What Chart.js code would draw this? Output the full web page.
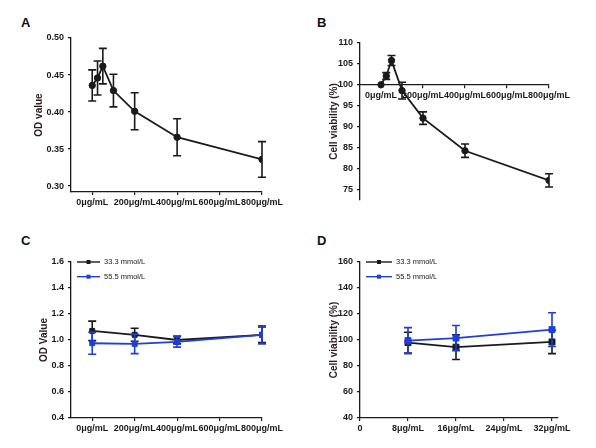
<!DOCTYPE html>
<html>
<head>
<meta charset="utf-8">
<script src="https://cdn.jsdelivr.net/npm/chart.js@4.4.1/dist/chart.umd.min.js"></script>
<style>
  body { margin: 0; background: #fff; width: 596px; height: 448px; position: relative; overflow: hidden;
         font-family: 'Liberation Sans', Arial, sans-serif; }
  canvas { position: absolute; }
  .tag { position: absolute; font-weight: bold; font-size: 13px; line-height: 1; color: #111; }
</style>
</head>
<body>
<div class="tag" style="left:21px;top:16px">A</div>
<div class="tag" style="left:317px;top:16px">B</div>
<div class="tag" style="left:21px;top:234px">C</div>
<div class="tag" style="left:317px;top:234px">D</div>
<canvas id="chartA" width="298" height="220" style="left:0;top:0"></canvas>
<canvas id="chartB" width="298" height="220" style="left:298px;top:0"></canvas>
<canvas id="chartC" width="298" height="228" style="left:0;top:220px"></canvas>
<canvas id="chartD" width="298" height="228" style="left:298px;top:220px"></canvas>
<script>
// panel A / B : single series, doses in μg/mL
var abDoses = [0, 25, 50, 100, 200, 400, 800];
var aOD = [0.436, 0.446, 0.462, 0.429, 0.401, 0.366, 0.336];
var aODErr = [0.021, 0.023, 0.024, 0.022, 0.025, 0.025, 0.024];
var bViability = [100, 102.1, 105.8, 98.6, 92.0, 84.2, 77.1];
var bViabilityErr = [0, 0.8, 1.2, 2.0, 1.5, 1.6, 1.6];

// panel C : two glucose levels
var cDoses = [0, 200, 400, 800];
var cOD333 = [1.07, 1.04, 1.0, 1.04];
var cOD333Err = [0.075, 0.05, 0.03, 0.06];
var cOD555 = [0.975, 0.97, 0.985, 1.04];
var cOD555Err = [0.085, 0.075, 0.04, 0.07];

// panel D
var dDoses = [8, 16, 32];
var dVia333 = [98, 94.5, 98.5];
var dVia333Err = [8, 9.5, 9];
var dVia555 = [99.5, 101.5, 108];
var dVia555Err = [10, 9.7, 13];

var seriesLabels = ['33.3 mmol/L', '55.5 mmol/L'];

// axis ticks
var doseTicks = [0, 200, 400, 600, 800];
var doseLabels = ['0μg/mL', '200μg/mL', '400μg/mL', '600μg/mL', '800μg/mL'];
var lowDoseTicks = [0, 8, 16, 24, 32];
var lowDoseLabels = ['0', '8μg/mL', '16μg/mL', '24μg/mL', '32μg/mL'];
var aYTicks = [0.30, 0.35, 0.40, 0.45, 0.50];
var bYTicks = [75, 80, 85, 90, 95, 100, 105, 110];
var cYTicks = [0.4, 0.6, 0.8, 1.0, 1.2, 1.4, 1.6];
var dYTicks = [40, 60, 80, 100, 120, 140, 160];

var FONT = "'Liberation Sans', Arial, sans-serif";
var INK = '#1a1a1a';
var BLUE = '#1f3fd6';

function pts(xs, ys) {
  return xs.map(function (x, i) { return { x: x, y: ys[i] }; });
}

// vertical error bars, drawn right after each dataset
var errorBars = {
  id: 'errorBars',
  afterDatasetDraw: function (chart, args) {
    var ds = chart.data.datasets[args.index];
    if (!ds.errors) return;
    var ctx = chart.ctx, xs = chart.scales.x, ys = chart.scales.y;
    ctx.save();
    ctx.strokeStyle = ds.borderColor;
    ctx.lineWidth = 1.6;
    ds.data.forEach(function (p, j) {
      var e = ds.errors[j];
      if (!e) return;
      var px = xs.getPixelForValue(p.x);
      var top = ys.getPixelForValue(p.y + e);
      var bot = ys.getPixelForValue(p.y - e);
      ctx.beginPath();
      ctx.moveTo(px, top); ctx.lineTo(px, bot);
      ctx.moveTo(px - 4, top); ctx.lineTo(px + 4, top);
      ctx.moveTo(px - 4, bot); ctx.lineTo(px + 4, bot);
      ctx.stroke();
    });
    ctx.restore();
  }
};

// small legend in the top left corner of the plot
var cornerLegend = {
  id: 'cornerLegend',
  afterDraw: function (chart, args, opts) {
    var ctx = chart.ctx, area = chart.chartArea;
    chart.data.datasets.forEach(function (ds, i) {
      var x0 = area.left + opts.x;
      var y = area.top + opts.y + i * opts.gap;
      ctx.save();
      ctx.strokeStyle = ds.borderColor;
      ctx.lineWidth = 1.4;
      ctx.beginPath();
      ctx.moveTo(x0, y); ctx.lineTo(x0 + opts.len, y);
      ctx.stroke();
      ctx.fillStyle = ds.borderColor;
      ctx.fillRect(x0 + opts.len / 2 - 2, y - 2, 4, 4);
      ctx.fillStyle = INK;
      ctx.font = '7.5px ' + FONT;
      ctx.textBaseline = 'middle';
      ctx.fillText(ds.label, x0 + opts.len + 4, y);
      ctx.restore();
    });
  }
};

function series(label, xs, ys, errs, color, style, radius, order) {
  return {
    label: label,
    data: pts(xs, ys),
    errors: errs,
    showLine: true,
    borderColor: color,
    backgroundColor: color,
    borderWidth: 1.8,
    pointStyle: style,
    pointRadius: radius,
    pointBorderWidth: 1,
    tension: 0,
    order: order
  };
}

function makeChart(id, o) {
  var tickFont = { family: FONT, size: 9, weight: 'bold' };
  return new Chart(document.getElementById(id), {
    type: 'scatter',
    data: { datasets: o.datasets },
    options: {
      responsive: false,
      animation: false,
      events: [],
      layout: { padding: o.padding },
      plugins: {
        legend: { display: false },
        tooltip: { enabled: false },
        cornerLegend: o.legend || false
      },
      scales: {
        x: {
          type: 'linear',
          min: o.xMin, max: o.xMax,
          position: o.xPosition || 'bottom',
          afterBuildTicks: function (s) { s.ticks = o.xTicks.map(function (v) { return { value: v }; }); },
          afterFit: function (s) { s.height = o.xHeight; },
          ticks: {
            autoSkip: false, maxRotation: 0, minRotation: 0, padding: 2,
            color: INK, font: tickFont,
            callback: function (v) { return o.xLabels[o.xTicks.indexOf(v)]; }
          },
          grid: { drawOnChartArea: false, tickLength: 3, color: INK, lineWidth: 1.2 },
          border: { color: INK, width: 1.3 }
        },
        y: {
          type: 'linear',
          min: o.yMin, max: o.yMax,
          afterBuildTicks: function (s) { s.ticks = o.yTicks.map(function (v) { return { value: v }; }); },
          afterFit: function (s) { s.width = o.yWidth; },
          ticks: {
            padding: 4, color: INK, font: tickFont,
            callback: function (v) { return v.toFixed(o.yDigits); }
          },
          grid: { drawOnChartArea: false, tickLength: 3, color: INK, lineWidth: 1.2 },
          border: { color: INK, width: 1.3 },
          title: {
            display: true, text: o.yTitle, color: '#2a1c1c',
            font: { family: FONT, size: 10, weight: 'bold' },
            padding: { top: o.titleLeft, bottom: 0 }
          }
        }
      }
    },
    plugins: [errorBars, cornerLegend]
  });
}

makeChart('chartA', {
  datasets: [series('A', abDoses, aOD, aODErr, INK, 'circle', 3.2, 0)],
  xMin: -100, xMax: 800, xTicks: doseTicks, xLabels: doseLabels, xHeight: 28,
  yMin: 0.292, yMax: 0.50, yTicks: aYTicks, yDigits: 2, yWidth: 71,
  yTitle: 'OD value', titleLeft: 33,
  padding: { top: 38, right: 36, bottom: 0, left: 0 }
});

makeChart('chartB', {
  datasets: [series('B', abDoses, bViability, bViabilityErr, INK, 'circle', 3.2, 0)],
  xMin: -100, xMax: 800, xTicks: doseTicks, xLabels: doseLabels, xHeight: 20,
  xPosition: { y: 100 },
  yMin: 72.4, yMax: 110, yTicks: bYTicks, yDigits: 0, yWidth: 62,
  yTitle: 'Cell viability (%)', titleLeft: 30,
  padding: { top: 43, right: 47, bottom: 20, left: 0 }
});

makeChart('chartC', {
  datasets: [
    series(seriesLabels[0], cDoses, cOD333, cOD333Err, INK, 'rect', 3.5, 1),
    series(seriesLabels[1], cDoses, cOD555, cOD555Err, BLUE, 'rect', 3.5, 0)
  ],
  xMin: -100, xMax: 800, xTicks: doseTicks, xLabels: doseLabels, xHeight: 30,
  yMin: 0.4, yMax: 1.6, yTicks: cYTicks, yDigits: 1, yWidth: 71,
  yTitle: 'OD Value', titleLeft: 38,
  padding: { top: 42, right: 36, bottom: 0, left: 0 },
  legend: { x: 6, y: 0, gap: 14.7, len: 23 }
});

makeChart('chartD', {
  datasets: [
    series(seriesLabels[0], dDoses, dVia333, dVia333Err, INK, 'rect', 4.2, 1),
    series(seriesLabels[1], dDoses, dVia555, dVia555Err, BLUE, 'rect', 4.2, 0)
  ],
  xMin: 0, xMax: 33, xTicks: lowDoseTicks, xLabels: lowDoseLabels, xHeight: 30,
  yMin: 40, yMax: 160, yTicks: dYTicks, yDigits: 0, yWidth: 62,
  yTitle: 'Cell viability (%)', titleLeft: 30,
  padding: { top: 42, right: 38, bottom: 0, left: 0 },
  legend: { x: 6, y: 0, gap: 14.7, len: 26 }
});
</script>
</body>
</html>
